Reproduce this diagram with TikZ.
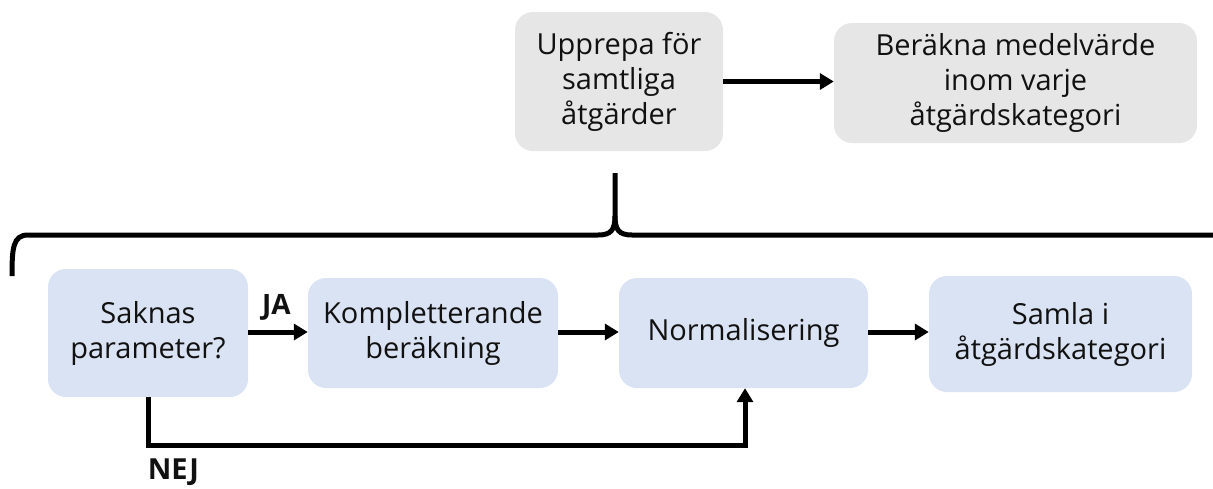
\documentclass[tikz,border=0pt]{standalone}
\usepackage{fontspec}
\setmainfont{Open Sans}
\usetikzlibrary{arrows.meta,calc}
\definecolor{boxblue}{HTML}{DAE3F3}
\definecolor{boxgray}{HTML}{E7E6E6}
\definecolor{txt}{HTML}{111111}
\tikzset{
  basebox/.style={rounded corners=18pt, inner sep=0pt, align=center, text=txt,
    font=\fontsize{29}{35}\selectfont},
  bluebox/.style={basebox, fill=boxblue},
  graybox/.style={basebox, fill=boxgray},
  arr/.style={line width=5pt, black, -{Triangle[length=14pt,width=16pt]}},
  bracestyle/.style={line width=5pt, black, line cap=butt},
  lbl/.style={font=\bfseries\fontsize{28}{32}\selectfont, text=txt, inner sep=0pt}
}
\begin{document}
\begin{tikzpicture}[x=1pt,y=-1pt]
\useasboundingbox (0,0) rectangle (1213,488);
% top row
\node[graybox, minimum width=208pt, minimum height=139pt] (upp) at (619,81.5) {Upprepa för\\samtliga\\åtgärder};
\node[graybox, minimum width=363pt, minimum height=120pt] (ber) at (1015.5,83) {Beräkna medelvärde\\inom varje\\åtgärdskategori};
% bottom row
\node[bluebox, minimum width=200pt, minimum height=128pt] (sak) at (148,333) {Saknas\\parameter?};
\node[bluebox, minimum width=250pt, minimum height=110pt] (komp) at (433,333) {Kompletterande\\beräkning};
\node[bluebox, minimum width=249pt, minimum height=110pt] (norm) at (743.5,333) {Normalisering};
\node[bluebox, minimum width=263pt, minimum height=116pt] (samla) at (1060.5,334) {Samla i\\åtgärdskategori};
% labels
\node[lbl] (ja) at (276.5,307) {JA};
\node[lbl, font=\bfseries\fontsize{29}{33}\selectfont] (nej) at (173.5,472) {NEJ};
% connectors
\draw[arr] (upp.east) -- (upp.east -| ber.west);
\draw[arr] ([yshift=1pt]sak.east) -- ([yshift=1pt]sak.east -| komp.west);
\draw[arr] ([yshift=1pt]komp.east) -- ([yshift=1pt]komp.east -| norm.west);
\draw[arr] ([yshift=1pt]norm.east) -- ([yshift=1pt]norm.east -| samla.west);
\coordinate (nejy) at (0,445);
\coordinate (normin) at ([xshift=1.5pt]norm.south);
\draw[arr] (sak.south) -- (sak.south |- nejy) -| (normin);
% brace
\coordinate (tip) at (615,173);
\draw[bracestyle] (12,276) .. controls (12,248) and (13,235) .. (28,235) -- (598,235)
  .. controls (611,235) and (615,230) .. (615,216) -- (tip);
\draw[bracestyle] (615,216) .. controls (615,230) and (619,235) .. (632,235) -- (1213,235);
\end{tikzpicture}
\end{document}
